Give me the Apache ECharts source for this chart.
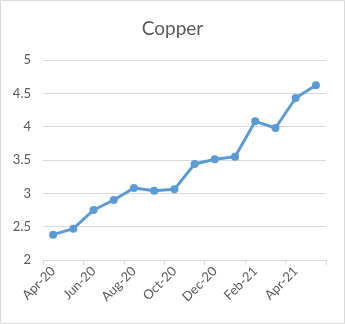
<!DOCTYPE html>
<html><head><meta charset="utf-8">
<script src="https://cdn.jsdelivr.net/npm/echarts@6/dist/echarts.min.js"></script>
<style>html,body{margin:0;padding:0;background:#fff}#c{width:345px;height:324px}</style>
</head><body><div id="c"></div>
<script>
const categories = ['Apr-20','May-20','Jun-20','Jul-20','Aug-20','Sep-20','Oct-20','Nov-20','Dec-20','Jan-21','Feb-21','Mar-21','Apr-21','May-21'];
const copperValues = [2.38, 2.47, 2.75, 2.90, 3.08, 3.04, 3.06, 3.44, 3.51, 3.55, 4.08, 3.98, 4.43, 4.62];
const yTicks = {min: 2, max: 5, interval: 0.5};
const chart = echarts.init(document.getElementById('c'), null, {renderer: 'canvas'});
const font = 'Lato, "Liberation Sans", sans-serif';
chart.setOption({
  animation: false,
  title: {text: 'Copper', left: 'center', top: 14, textStyle: {fontFamily: font, fontSize: 19, fontWeight: 'normal', color: '#595959'}},
  graphic: [{type: 'rect', shape: {x: 0.5, y: 0.5, width: 344, height: 323}, style: {fill: 'none', stroke: '#d9d9d9', lineWidth: 1}, silent: true}],
  grid: {left: 43, right: 19, top: 60, bottom: 64},
  xAxis: {
    type: 'category', data: categories, boundaryGap: true,
    axisLine: {lineStyle: {color: '#d9d9d9'}},
    axisTick: {show: true, interval: 1, length: 5, lineStyle: {color: '#d9d9d9'}},
    axisLabel: {interval: 1, rotate: 45, color: '#595959', fontFamily: font, fontSize: 13, margin: 9}
  },
  yAxis: {
    type: 'value', min: yTicks.min, max: yTicks.max, interval: yTicks.interval,
    axisLine: {show: false}, axisTick: {show: false},
    splitLine: {lineStyle: {color: '#d9d9d9'}},
    axisLabel: {color: '#595959', fontFamily: font, fontSize: 13, margin: 12}
  },
  series: [{
    type: 'line', data: copperValues, symbol: 'circle', symbolSize: 8,
    lineStyle: {color: '#5b9bd5', width: 3}, itemStyle: {color: '#5b9bd5'}
  }]
});
</script></body></html>
